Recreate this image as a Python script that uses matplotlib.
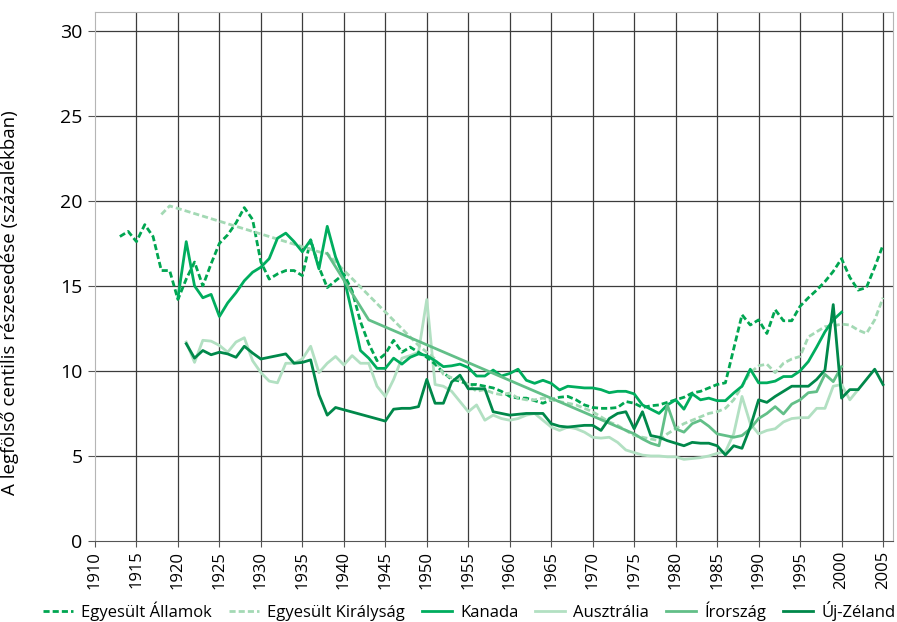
import numpy as np
import matplotlib.pyplot as plt

plt.rcParams['font.family'] = ['Open Sans', 'DejaVu Sans']

# Egyesult Allamok (1913-2005)
us_years = np.arange(1913, 2006)
us = [17.9, 18.2, 17.6, 18.6, 17.9, 15.9, 15.9,
      14.2, 15.4, 16.4, 15.0, 16.3, 17.5, 18.0, 18.7, 19.6, 18.9,
      16.4, 15.4, 15.7, 15.9, 15.9, 15.6, 17.7, 16.1, 14.9, 15.3,
      15.7, 14.7, 12.9, 11.6, 10.6, 11.0, 11.8, 11.1, 11.4, 11.1,
      10.8, 10.4, 9.9, 9.5, 9.4, 9.2, 9.2, 9.1, 9.0, 8.8,
      8.5, 8.4, 8.4, 8.25, 8.1, 8.3, 8.45, 8.5, 8.3, 8.0,
      7.85, 7.8, 7.8, 7.85, 8.2, 8.1, 7.85, 7.95, 8.0, 8.15,
      8.3, 8.45, 8.7, 8.8, 9.0, 9.2, 9.3, 11.3, 13.3, 12.7,
      13.0, 12.2, 13.6, 12.95, 12.95, 13.8, 14.3, 14.75, 15.25, 15.85,
      16.6, 15.5, 14.75, 14.9, 16.1, 17.4]

# Egyesult Kiralysag (hianyos evek)
uk_years = [1918, 1919, 1937, 1938, 1949] + list(range(1951, 2006))
uk = [19.2, 19.7, 17.0, 16.9, 11.5,
      10.7, 9.8, 9.6, 9.5, 9.2, 8.8, 8.9, 8.7, 8.6,
      8.7, 8.4, 8.3, 8.3, 8.4, 8.3, 8.2, 8.1, 8.0, 7.8,
      7.6, 7.3, 7.0, 6.8, 6.5, 6.2, 6.1, 6.0, 5.9, 6.3,
      6.6, 6.9, 7.1, 7.3, 7.5, 7.6, 7.8, 8.3, 9.1, 9.9,
      10.3, 10.4, 9.9, 10.45, 10.7, 10.85, 12.0, 12.3, 12.6, 12.65,
      12.75, 12.7, 12.4, 12.2, 13.0, 14.3]

# Kanada (1920-2000)
ca_years = np.arange(1920, 2001)
ca = [14.3, 17.6, 15.0, 14.3, 14.5, 13.2, 14.0, 14.6, 15.3, 15.8,
      16.1, 16.6, 17.8, 18.1, 17.6, 17.0, 17.7, 16.0, 18.5, 16.7,
      15.5, 13.4, 11.2, 10.75, 10.15, 10.15, 10.75, 10.4, 10.8, 11.0,
      10.9, 10.6, 10.25, 10.3, 10.4, 10.2, 9.7, 9.7, 10.05, 9.7,
      9.85, 10.1, 9.45, 9.27, 9.45, 9.27, 8.88, 9.1, 9.05, 9.0,
      9.0, 8.9, 8.72, 8.8, 8.8, 8.65, 8.0, 7.75, 7.5, 8.0,
      8.3, 7.75, 8.65, 8.3, 8.4, 8.25, 8.25, 8.7, 9.1, 10.1,
      9.3, 9.3, 9.4, 9.67, 9.67, 10.0, 10.55, 11.4, 12.3, 13.0, 13.45]

# Ausztralia (1921-2002)
au_years = np.arange(1921, 2003)
au = [11.7, 10.5, 11.8, 11.75, 11.5, 11.1, 11.7, 11.95, 10.6,
      9.9, 9.4, 9.3, 10.45, 10.45, 10.7, 11.45, 9.9, 10.45, 10.85,
      10.35, 10.9, 10.45, 10.45, 9.1, 8.5, 9.5, 10.75, 10.9, 11.1,
      14.2, 9.2, 9.1, 8.8, 8.2, 7.6, 8.0, 7.1, 7.4, 7.2,
      7.1, 7.2, 7.4, 7.5, 7.1, 6.7, 6.5, 6.7, 6.6, 6.4,
      6.1, 6.05, 6.1, 5.8, 5.35, 5.2, 5.05, 5.0, 5.0, 4.95,
      4.95, 4.8, 4.85, 4.9, 5.0, 5.15, 5.25, 6.3, 8.5, 6.9,
      6.3, 6.5, 6.6, 7.0, 7.2, 7.25, 7.25, 7.8, 7.8, 9.1,
      9.2, 8.3, 8.9]

# Irorszag
ie_years = [1938, 1943] + list(range(1975, 2001))
ie = [16.9, 13.0,
      6.3, 6.0, 5.75, 5.6, 8.0, 6.6, 6.4, 6.9, 7.1, 6.75,
      6.3, 6.2, 6.1, 6.2, 6.6, 7.2, 7.5, 7.9, 7.47, 8.05,
      8.3, 8.72, 8.78, 9.8, 9.37, 10.25]

# Uj-Zeland
nz_years = list(range(1921, 1940)) + list(range(1945, 2006))
nz = [11.6, 10.75, 11.2, 10.95, 11.1, 11.0, 10.8, 11.45, 11.05,
      10.7, 10.8, 10.9, 11.0, 10.45, 10.5, 10.65, 8.6, 7.4, 7.85,
      7.05, 7.75, 7.8, 7.8, 7.9,
      9.5, 8.1, 8.1, 9.35, 9.75, 8.95, 8.95, 8.95, 7.6, 7.5,
      7.4, 7.45, 7.5, 7.5, 7.5, 6.9, 6.75, 6.7, 6.75, 6.8,
      6.8, 6.5, 7.2, 7.5, 7.6, 6.6, 7.6, 6.2, 6.1, 5.9,
      5.75, 5.6, 5.8, 5.75, 5.75, 5.6, 5.06, 5.6, 5.45, 6.7,
      8.3, 8.15, 8.5, 8.8, 9.1, 9.1, 9.1, 9.5, 10.05, 13.9,
      8.4, 8.9, 8.9, 9.5, 10.1, 9.2]

fig = plt.figure(figsize=(8.97, 6.22), dpi=100)
ax = fig.add_axes([0.1059, 0.1302, 0.8896, 0.8505])

grid_c = '#3c3c3c'
for yr in range(1915, 2006, 5):
    ax.axvline(yr, color=grid_c, lw=0.9, zorder=1)
for v in range(5, 31, 5):
    ax.axhline(v, color=grid_c, lw=0.9, zorder=1)

lw = 2.0
dash = (2.2, 1.1)
ax.plot(us_years, us, color='#00a651', lw=lw, dashes=dash, label='Egyesült Államok', zorder=3)
ax.plot(uk_years, uk, color='#a3d9b4', lw=lw, dashes=dash, label='Egyesült Királyság', zorder=3)
ax.plot(ca_years, ca, color='#00ad5e', lw=lw, label='Kanada', zorder=3)
ax.plot(au_years, au, color='#b2e0c2', lw=lw, label='Ausztrália', zorder=2)
ax.plot(ie_years, ie, color='#62bf88', lw=lw, label='Írország', zorder=3)
ax.plot(nz_years, nz, color='#00884a', lw=lw, label='Új-Zéland', zorder=3)

ax.set_xlim(1910, 2006.2)
ax.set_ylim(0, 31.1)
ax.set_xticks(range(1910, 2006, 5))
ax.set_xticklabels([str(y) for y in range(1910, 2006, 5)], rotation=90, fontsize=12)
ax.set_yticks(range(0, 31, 5))
ax.tick_params(axis='y', labelsize=14, length=5, color='#555555', pad=4)
ax.tick_params(axis='x', length=4, color='#555555', pad=3)
for s in ['left', 'right', 'top']:
    ax.spines[s].set_color('#b5b5b5')
ax.spines['bottom'].set_color('#555555')
ax.set_ylabel('A legfölső centilis részesedése (százalékban)', fontsize=13.5)
ax.yaxis.set_label_coords(-0.095, 0.45)

fig.legend(loc='center', bbox_to_anchor=(0.523, 0.018), ncol=6, frameon=False,
           fontsize=12, handlelength=1.8, handletextpad=0.5, columnspacing=1.0,
           borderaxespad=0)

fig.savefig('out.png', dpi=100)
